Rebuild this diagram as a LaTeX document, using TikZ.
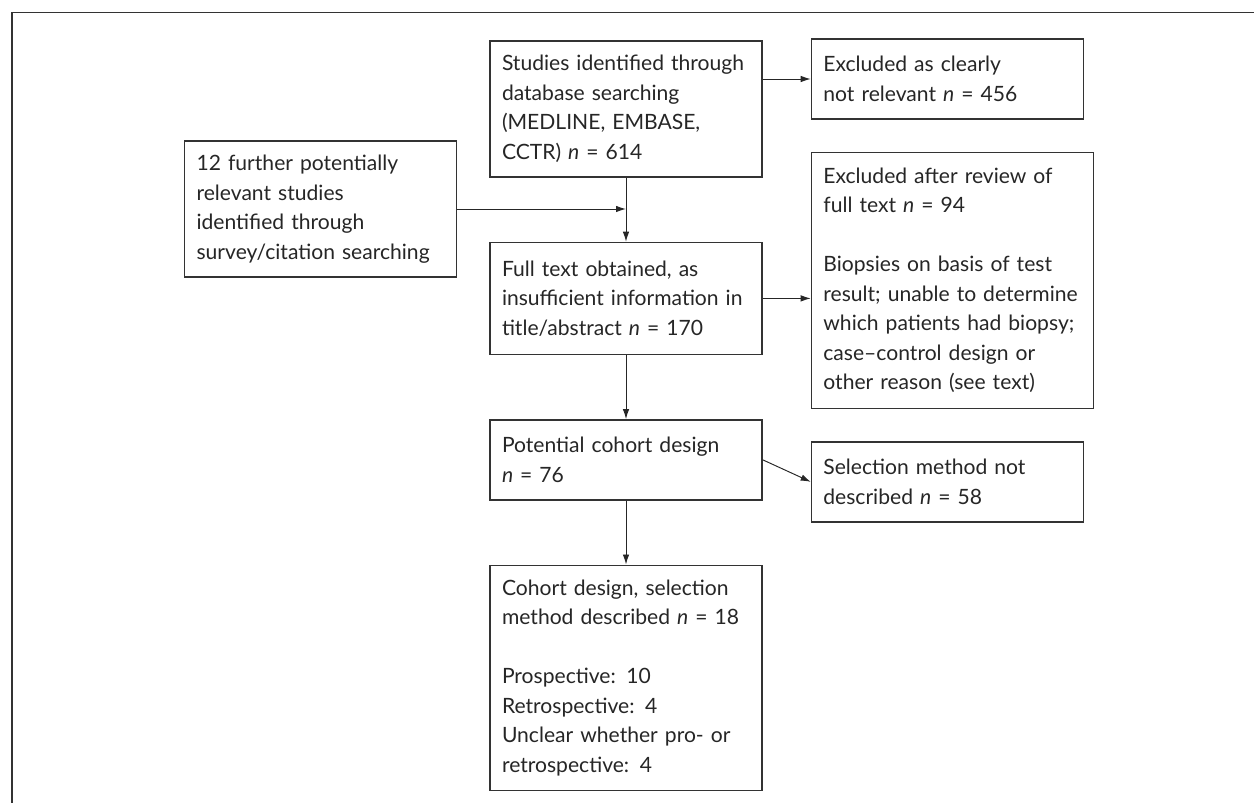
\documentclass[tikz,border=0pt]{standalone}
\usepackage{fontspec}
\setmainfont{Lato}
\usetikzlibrary{arrows.meta,positioning}

\begin{document}
\begin{tikzpicture}[
  node distance=1.28cm and 0.96cm,
  box/.style={draw=black!80,line width=0.8pt,text width=4.96cm,inner xsep=0.24cm,
    inner ysep=0pt,align=left,font=\fontsize{12}{16.8}\selectfont,text=black!85},
  widebox/.style={box,text width=5.16cm},
  arr/.style={-{Latex[length=2mm,width=1.3mm]},line width=0.55pt,draw=black!85},
  frame/.style={line width=1.1pt,draw=black!80}
]
  \useasboundingbox (0,0) rectangle (25.08,-16.06);
  % outer frame
  \draw[frame] (0.24,-16.06) -- (0.24,-0.25) -- (25.08,-0.25);

  % Main column
  \node[box,minimum height=2.72cm] (found) at (12.52,-2.18)
    {Studies identified through\\ database searching\\ (MEDLINE, EMBASE,\\ CCTR) \textit{n} = 614};
  \node[box,minimum height=2.24cm,below=of found] (fulltext)
    {Full text obtained, as\\ insufficient information in\\ title/abstract \textit{n} = 170};
  \node[box,minimum height=1.6cm,below=of fulltext] (cohort)
    {Potential cohort design\\ \textit{n} = 76};
  \node[box,minimum height=4.5cm,below=of cohort] (selected)
    {Cohort design, selection\\ method described \textit{n} = 18\\[16.8pt]
     Prospective: 10\\ Retrospective: 4\\ Unclear whether pro- or\\ retrospective: 4};

  % Extra sources
  \node[box,minimum height=2.72cm,left=0.64cm of found.west,yshift=-2cm] (further)
    {12 further potentially\\ relevant studies\\ identified through\\ survey/citation searching};
  \coordinate (merge) at (found.south |- further.east);

  % Exclusions
  \node[box,minimum height=1.6cm,right=of found.north east,anchor=north west,yshift=0.04cm] (notrel)
    {Excluded as clearly\\ not relevant \textit{n} = 456};
  \node[widebox,minimum height=5.12cm,right=of fulltext.east,yshift=0.36cm] (review)
    {Excluded after review of\\ full text \textit{n} = 94\\[16.8pt]
     Biopsies on basis of test\\ result; unable to determine\\ which patients had biopsy;\\
     case--control design or\\ other reason (see text)};
  \node[box,minimum height=1.6cm,right=of cohort.east,yshift=-0.44cm] (nomethod)
    {Selection method not\\ described \textit{n} = 58};

  % Flow
  \draw[arr] (found) -- (fulltext);
  \draw[arr] (fulltext) -- (cohort);
  \draw[arr] (cohort) -- (selected);
  \draw[arr] (further.east) -- (merge);
  \draw[arr] (notrel.west -| found.east) -- (notrel.west);
  \draw[arr] (fulltext.east) -- (fulltext.east -| review.west);
  \draw[arr] (cohort.east) -- (nomethod.west);
\end{tikzpicture}
\end{document}
